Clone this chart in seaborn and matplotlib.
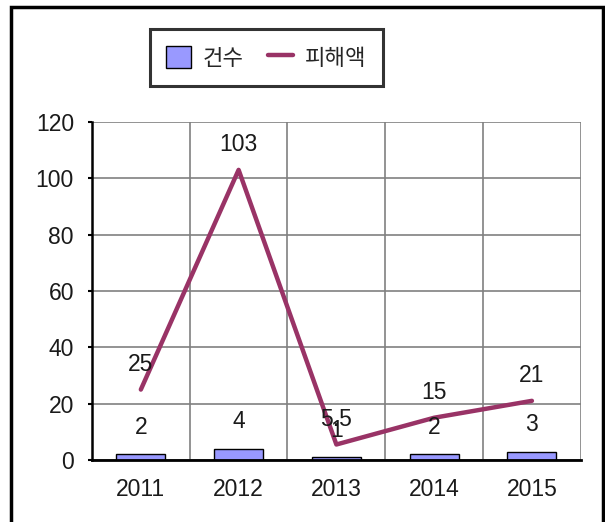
import numpy as np
import pandas as pd
import seaborn as sns
import matplotlib.pyplot as plt
from matplotlib.patches import Rectangle
from matplotlib.ticker import MultipleLocator

# data
years = ["2011", "2012", "2013", "2014", "2015"]
counts = [2, 4, 1, 2, 3]          # 건수
damage = [25, 103, 5.5, 15, 21]   # 피해액
damage_labels = ["25", "103", "5.5", "15", "21"]

df = pd.DataFrame({"year": years, "count": counts, "damage": damage})

sns.set_style("white")
plt.rcParams["font.family"] = ["Liberation Sans", "Noto Sans CJK KR", "DejaVu Sans"]

fig = plt.figure(figsize=(6.05, 5.22), dpi=100)
ax = fig.add_axes([0.152, 0.1188, 0.808, 0.6475])

sns.barplot(data=df, x="year", y="count", color="#9999FF", width=0.5,
            edgecolor="black", linewidth=1.0, saturation=1, ax=ax, label="건수")
sns.lineplot(x=np.arange(len(years)), y=df["damage"], color="#993366",
             linewidth=3.2, ax=ax, label="피해액")

# value labels
ax.bar_label(ax.containers[0], labels=[str(c) for c in counts], padding=11,
             fontsize=16.5, color="#1a1a1a")
for i, (v, s) in enumerate(zip(damage, damage_labels)):
    ax.annotate(s, (i, v), xytext=(0, 18), textcoords="offset points",
                ha="center", va="center", fontsize=16.5, color="#1a1a1a")

ax.set_xlim(-0.5, 4.5)
ax.set_ylim(0, 120)
ax.yaxis.set_major_locator(MultipleLocator(20))
ax.set_xticks(range(len(years)))
ax.set_xticklabels(years)
ax.set_xticks(np.arange(-0.5, 5, 1), minor=True)
ax.set_xlabel("")
ax.set_ylabel("")

ax.grid(axis="y", which="major", color="#808080", linewidth=1.2)
ax.grid(axis="x", which="minor", color="#808080", linewidth=1.2)
ax.grid(axis="x", which="major", visible=False)
ax.set_axisbelow(True)

for side in ["top", "right"]:
    ax.spines[side].set_visible(False)
ax.spines["left"].set_color("black")
ax.spines["left"].set_linewidth(1.8)
ax.spines["bottom"].set_color("black")
ax.spines["bottom"].set_linewidth(2.0)

ax.tick_params(axis="y", which="major", left=True, length=3, width=1.5,
               color="black", pad=10, labelsize=16.5, labelcolor="#1a1a1a")
ax.tick_params(axis="x", which="both", bottom=False, length=0, pad=13,
               labelsize=16.5, labelcolor="#1a1a1a")

# legend box above the plot: bar entry first, then line
handles, labels = ax.get_legend_handles_labels()
order = [labels.index("건수"), labels.index("피해액")]
if ax.get_legend():
    ax.get_legend().remove()
leg = fig.legend([handles[i] for i in order], [labels[i] for i in order],
                 loc="center", bbox_to_anchor=(0.4405, 0.889),
                 bbox_transform=fig.transFigure, ncol=2, fontsize=16,
                 frameon=True, fancybox=False, handlelength=1.1, handleheight=1.15,
                 handletextpad=0.55, columnspacing=1.1, borderpad=0.75)
leg.get_frame().set_edgecolor("black")
leg.get_frame().set_linewidth(2.2)

# outer border of the chart area (bottom edge cut off)
fig.patches.append(Rectangle((0.018, -0.05), 0.979, 1.0366, transform=fig.transFigure,
                             fill=False, edgecolor="black", linewidth=2.5, figure=fig))

fig.savefig("out.png", dpi=100)
